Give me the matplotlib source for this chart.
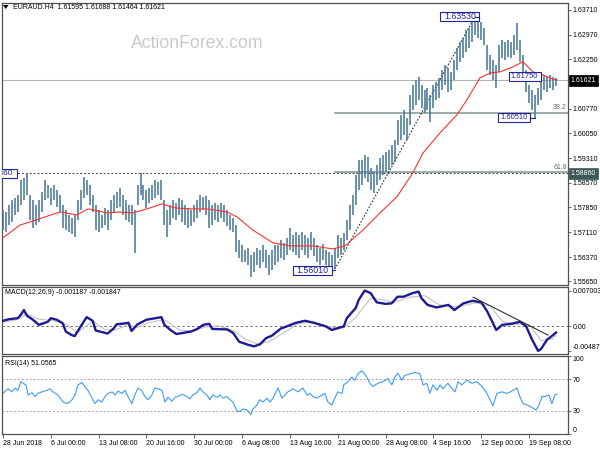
import matplotlib
matplotlib.use('Agg')
import matplotlib.pyplot as plt
from matplotlib.patches import Polygon, Rectangle
import numpy as np

plt.rcParams['font.family'] = ['Liberation Sans', 'DejaVu Sans']

# ---------------- data ----------------
bar_high = [
    1.5777, 1.5771, 1.5792, 1.5807, 1.5813, 1.5822, 1.5866, 1.5872, 1.5887, 1.5822,
    1.5807, 1.5792, 1.5807, 1.5830, 1.5866, 1.5851, 1.5842, 1.5851, 1.5836, 1.5822,
    1.5792, 1.5777, 1.5762, 1.5753, 1.5762, 1.5807, 1.5836, 1.5875, 1.5866, 1.5851,
    1.5822, 1.5792, 1.5777, 1.5762, 1.5783, 1.5777, 1.5807, 1.5822, 1.5830, 1.5842,
    1.5822, 1.5807, 1.5792, 1.5792, 1.5777, 1.5851, 1.5887, 1.5851, 1.5836, 1.5842,
    1.5851, 1.5866, 1.5860, 1.5866, 1.5807, 1.5777, 1.5792, 1.5807, 1.5798, 1.5813,
    1.5807, 1.5792, 1.5783, 1.5777, 1.5792, 1.5807, 1.5822, 1.5816, 1.5819, 1.5807,
    1.5792, 1.5798, 1.5792, 1.5798, 1.5792, 1.5777, 1.5762, 1.5753, 1.5732, 1.5688,
    1.5673, 1.5658, 1.5664, 1.5643, 1.5652, 1.5664, 1.5658, 1.5673, 1.5658, 1.5643,
    1.5658, 1.5673, 1.5673, 1.5688, 1.5679, 1.5694, 1.5723, 1.5703, 1.5711, 1.5703,
    1.5711, 1.5703, 1.5694, 1.5711, 1.5694, 1.5673, 1.5664, 1.5676, 1.5658, 1.5652,
    1.5643, 1.5664, 1.5703, 1.5694, 1.5708, 1.5747, 1.5792, 1.5822, 1.5881, 1.5925,
    1.5925, 1.5940, 1.5934, 1.5902, 1.5890, 1.5911, 1.5931, 1.5940, 1.5949, 1.5955,
    1.5970, 1.5985, 1.6044, 1.6059, 1.6074, 1.6050, 1.6119, 1.6148, 1.6163, 1.6172,
    1.6148, 1.6133, 1.6139, 1.6119, 1.6148, 1.6157, 1.6169, 1.6193, 1.6208, 1.6199,
    1.6187, 1.6222, 1.6258, 1.6276, 1.6288, 1.6312, 1.6318, 1.6335, 1.6353, 1.6341,
    1.6335, 1.6318, 1.6267, 1.6237, 1.6222, 1.6208, 1.6267, 1.6282, 1.6276, 1.6282,
    1.6276, 1.6297, 1.6332, 1.6282, 1.6237, 1.6193, 1.6148, 1.6133, 1.6119, 1.6139,
    1.6169, 1.6178, 1.6175, 1.6178, 1.6172, 1.6169,
]
bar_low = [
    1.5717, 1.5711, 1.5732, 1.5741, 1.5762, 1.5771, 1.5792, 1.5807, 1.5822, 1.5747,
    1.5723, 1.5732, 1.5741, 1.5771, 1.5807, 1.5813, 1.5792, 1.5807, 1.5786, 1.5771,
    1.5723, 1.5717, 1.5711, 1.5705, 1.5697, 1.5747, 1.5777, 1.5813, 1.5822, 1.5792,
    1.5771, 1.5717, 1.5711, 1.5723, 1.5732, 1.5717, 1.5747, 1.5771, 1.5783, 1.5786,
    1.5762, 1.5747, 1.5741, 1.5732, 1.5649, 1.5792, 1.5822, 1.5807, 1.5783, 1.5798,
    1.5807, 1.5813, 1.5822, 1.5807, 1.5732, 1.5697, 1.5732, 1.5753, 1.5747, 1.5762,
    1.5741, 1.5732, 1.5723, 1.5729, 1.5741, 1.5753, 1.5771, 1.5777, 1.5762, 1.5723,
    1.5732, 1.5747, 1.5741, 1.5753, 1.5741, 1.5729, 1.5717, 1.5711, 1.5652, 1.5634,
    1.5622, 1.5622, 1.5613, 1.5578, 1.5593, 1.5613, 1.5605, 1.5622, 1.5605, 1.5584,
    1.5599, 1.5613, 1.5622, 1.5634, 1.5628, 1.5643, 1.5658, 1.5652, 1.5643, 1.5634,
    1.5658, 1.5643, 1.5634, 1.5658, 1.5640, 1.5622, 1.5613, 1.5628, 1.5613, 1.5608,
    1.5602, 1.5601, 1.5634, 1.5643, 1.5658, 1.5688, 1.5717, 1.5762, 1.5792, 1.5836,
    1.5851, 1.5872, 1.5860, 1.5836, 1.5827, 1.5851, 1.5866, 1.5881, 1.5890, 1.5896,
    1.5911, 1.5920, 1.5970, 1.5985, 1.5999, 1.5985, 1.6029, 1.6074, 1.6089, 1.6104,
    1.6080, 1.6065, 1.6074, 1.6038, 1.6080, 1.6104, 1.6110, 1.6133, 1.6148, 1.6127,
    1.6133, 1.6163, 1.6193, 1.6217, 1.6228, 1.6246, 1.6258, 1.6276, 1.6297, 1.6288,
    1.6282, 1.6267, 1.6193, 1.6178, 1.6163, 1.6139, 1.6187, 1.6228, 1.6222, 1.6231,
    1.6228, 1.6237, 1.6252, 1.6217, 1.6163, 1.6127, 1.6095, 1.6074, 1.6051, 1.6089,
    1.6104, 1.6133, 1.6127, 1.6139, 1.6133, 1.6146,
]

ma_idx = [0, 5.7, 10.0, 14.0, 19.1, 24.7, 28.4, 34.8, 39.1, 43.5, 49.2, 53.2, 57.5,
          62.5, 68.2, 74.9, 78.3, 83.6, 90.3, 96.0, 103.7, 110.3, 114.4, 120.4,
          126.1, 131.8, 137.1, 140.5, 146.2, 151.8, 155.2, 159.5, 162.9, 166.2,
          170.6, 173.9, 177.3, 180.6, 182.9, 185.3]
ma_val = [1.5694, 1.5732, 1.5744, 1.5756, 1.5771, 1.5762, 1.5780, 1.5768, 1.5771,
          1.5768, 1.5783, 1.5795, 1.5783, 1.5780, 1.5780, 1.5771, 1.5756, 1.5717,
          1.5679, 1.5670, 1.5670, 1.5661, 1.5670, 1.5717, 1.5768, 1.5816, 1.5887,
          1.5946, 1.6006, 1.6059, 1.6104, 1.6169, 1.6184, 1.6187, 1.6202, 1.6217,
          1.6187, 1.6178, 1.6169, 1.6163]

macd_idx = [0, 2, 5, 6, 7, 8, 10, 12, 15, 16, 18, 20, 21, 23, 24, 26, 28, 30, 31, 33,
            35, 37, 38, 41, 42, 43, 45, 48, 52, 53, 54, 56, 58, 60, 63, 65, 67, 69, 70,
            75, 77, 79, 82, 84, 86, 88, 90, 93, 94, 98, 101, 104, 108, 110, 114, 115,
            118, 119, 121, 123, 125, 128, 130, 132, 134, 137, 139, 140, 142, 145, 149,
            151, 154, 157, 160, 162, 165, 167, 170, 173, 175, 177, 179, 180, 182, 184, 185]
macd_val = [0.0011, 0.0014, 0.0016, 0.0023, 0.0032, 0.0021, 0.0013, 0.0003, 0.0009,
            0.0016, 0.0013, 0.0006, -0.0010, -0.0017, -0.0019, 0.0000, 0.0018, 0.0011,
            -0.0008, -0.0011, -0.0014, -0.0004, 0.0004, 0.0006, 0.0007, -0.0009, 0.0004,
            0.0013, 0.0017, 0.0018, 0.0003, -0.0007, -0.0015, -0.0013, -0.0010, -0.0005,
            0.0003, 0.0005, -0.0005, -0.0006, -0.0013, -0.0030, -0.0036, -0.0039, -0.0035,
            -0.0023, -0.0018, -0.0004, -0.0002, 0.0007, 0.0011, 0.0007, 0.0000, -0.0007,
            0.0000, 0.0016, 0.0036, 0.0052, 0.0070, 0.0065, 0.0047, 0.0044, 0.0045, 0.0058,
            0.0058, 0.0065, 0.0068, 0.0055, 0.0042, 0.0037, 0.0042, 0.0032, 0.0045, 0.0050,
            0.0047, 0.0029, -0.0007, 0.0003, 0.0005, 0.0009, 0.0000, -0.0026, -0.0048,
            -0.0044, -0.0026, -0.0017, -0.0012]

signal_idx = [0, 4, 8, 12, 17, 21, 25, 30, 34, 37, 42, 45, 49, 54, 59, 63, 68, 72, 77,
              81, 85, 89, 94, 99, 104, 110, 114, 118, 123, 127, 131, 136, 141, 146, 152,
              158, 163, 167, 171, 176, 180, 184, 185]
signal_val = [0.0008, 0.0012, 0.0024, 0.0014, 0.0011, 0.0004, -0.0012, 0.0010, -0.0006,
              -0.0008, 0.0003, -0.0002, 0.0008, 0.0013, -0.0007, -0.0009, -0.0001, 0.0001,
              -0.0008, -0.0025, -0.0034, -0.0030, -0.0012, 0.0006, 0.0008, -0.0002, -0.0003,
              0.0018, 0.0055, 0.0052, 0.0047, 0.0057, 0.0060, 0.0042, 0.0038, 0.0046, 0.0040,
              0.0010, 0.0004, 0.0004, -0.0028, -0.0024, -0.0018]

rsi_idx = [0, 0.7, 1.7, 3.0, 4.0, 5.0, 6.0, 6.7, 7.7, 8.4, 9.7, 10.7, 11.7, 13.0, 14.7,
           15.7, 16.7, 18.4, 20.1, 21.4, 22.4, 23.1, 24.1, 25.1, 26.4, 27.4, 28.4, 29.8,
           30.8, 31.8, 33.1, 34.1, 35.1, 36.5, 37.5, 38.5, 39.8, 40.8, 41.8, 43.1, 44.1,
           45.2, 46.5, 47.5, 48.5, 49.8, 50.8, 51.8, 53.2, 54.2, 55.2, 56.5, 57.5, 58.5,
           59.9, 61.5, 62.5, 63.5, 64.9, 65.9, 66.9, 68.2, 69.2, 70.2, 71.6, 72.6, 73.6,
           74.9, 75.9, 76.9, 78.3, 79.3, 80.3, 81.6, 82.9, 83.6, 84.9, 85.9, 87.0, 88.3,
           89.3, 90.3, 92.0, 93.3, 94.3, 95.3, 97.0, 98.7, 100.3, 101.7, 102.7, 103.7,
           105.0, 106.7, 107.7, 108.7, 110.0, 111.0, 112.0, 113.4, 114.0, 115.4, 116.7,
           117.7, 118.7, 120.1, 121.4, 122.7, 123.7, 125.4, 127.1, 128.8, 130.1, 131.1,
           132.1, 133.4, 134.4, 136.1, 137.8, 139.5, 140.5, 141.8, 142.8, 143.8, 145.2,
           146.2, 147.2, 148.8, 150.2, 151.2, 152.2, 153.5, 155.2, 156.9, 158.5, 160.2,
           161.9, 162.9, 163.9, 165.2, 166.9, 168.6, 170.2, 171.9, 172.9, 173.9, 175.6,
           176.9, 178.3, 179.3, 180.3, 181.3, 182.6, 183.6, 184.6, 185.3]
rsi_val = [52, 55, 58, 54, 59, 56, 67, 65, 63, 50, 53, 48, 52, 54, 56, 58, 54, 50, 41, 39,
           41, 44, 50, 63, 66, 61, 56, 46, 39, 44, 41, 48, 52, 54, 50, 55, 52, 56, 48, 39,
           50, 59, 55, 48, 44, 50, 59, 58, 56, 41, 47, 42, 47, 48, 51, 48, 45, 50, 53, 59,
           54, 50, 44, 50, 47, 50, 46, 48, 44, 41, 29, 29, 32, 31, 25, 32, 37, 44, 41, 46,
           41, 46, 59, 46, 50, 54, 58, 54, 59, 50, 52, 48, 46, 50, 52, 41, 37, 46, 54, 52,
           63, 67, 73, 69, 77, 81, 75, 65, 61, 65, 67, 71, 63, 73, 78, 69, 75, 77, 79, 77,
           63, 65, 52, 63, 56, 63, 58, 65, 58, 54, 67, 63, 69, 65, 67, 61, 52, 44, 36, 52,
           54, 52, 55, 59, 48, 39, 37, 34, 31, 37, 48, 48, 50, 39, 50, 51]

date_labels = ["28 Jun 2018", "6 Jul 00:00", "13 Jul 08:00", "20 Jul 16:00",
               "30 Jul 00:00", "6 Aug 08:00", "13 Aug 16:00", "21 Aug 00:00",
               "28 Aug 08:00", "4 Sep 16:00", "12 Sep 00:00", "19 Sep 08:00"]
date_idx = [0, 16, 32, 48, 64, 80, 96, 112, 128, 144, 160, 176]

price_ticks = [1.63710, 1.62970, 1.62250, 1.60770, 1.60050, 1.59310,
               1.58570, 1.57850, 1.57110, 1.56370, 1.55650]

swing_low_idx, swing_low = 111, 1.56010
swing_high_idx, swing_high = 158, 1.63530
level_1588 = 1.58860
level_1605 = 1.60510
level_1617 = 1.61750
last_price = 1.61621
fib_ratios = [0.382, 0.618]
macd_tl_idx = [157.3, 182.3]
macd_tl_val = [0.0057, -0.0017]
rsi_levels = [70, 30]

# ---------------- figure ----------------
W, H = 600, 450
fig = plt.figure(figsize=(6, 4.5), dpi=100)
fig.patch.set_facecolor('white')

def fx(x):
    return x / W

def fy(y):
    return 1 - y / H

def add_axes(x0, y0, x1, y1):
    return fig.add_axes([fx(x0), fy(y1), (x1 - x0) / W, (y1 - y0) / H])

ax = add_axes(2, 3, 568, 285)
axm = add_axes(2, 287, 568, 354)
axr = add_axes(2, 356, 568, 434)

XL = (-0.33, 189.0)
YL = (1.55538, 1.63918)
PX_X = (XL[1] - XL[0]) / 566.0     # index units per pixel
PX_Y = (YL[1] - YL[0]) / 282.0     # price units per pixel
FRAME = '#505050'
TXT = 5.05
BAR_C = '#4a7897'
BOX_C = '#24249a'

for a in (ax, axm, axr):
    a.set_xlim(*XL)
    a.set_facecolor('white')
    for s in a.spines.values():
        s.set_color(FRAME)
        s.set_linewidth(0.9)
    a.yaxis.tick_right()
    a.tick_params(axis='y', direction='out', length=2.5, width=0.6, color=FRAME,
                  labelsize=TXT, pad=1.0, labelcolor='black')
    a.tick_params(axis='x', bottom=False, labelbottom=False)

# ---- main price panel ----
ax.set_ylim(*YL)
idx = np.arange(len(bar_high))
ax.vlines(idx, bar_low, bar_high, color=BAR_C, lw=1.15, zorder=3)
ax.plot(ma_idx, ma_val, color='#ff3030', lw=0.8, zorder=4)

ax.axhline(last_price, color='#b4b4b4', lw=0.8, zorder=1)
ax.axhline(level_1588, color='#404040', lw=0.7, ls=(0, (2, 2)), zorder=2)
rng = swing_high - swing_low
for r in fib_ratios:
    lvl = swing_high - r * rng
    ax.plot([swing_low_idx, XL[1]], [lvl, lvl], color='#8c9c9c', lw=1.2, zorder=2)
    ax.text(188.6, lvl + 0.0004, f"{r*100:.1f}", fontsize=TXT, color='#607070',
            ha='right', va='bottom', zorder=5)
ax.plot([swing_low_idx, swing_high_idx], [swing_low, swing_high], color='#303030',
        lw=0.8, ls=(0, (1.5, 1.5)), zorder=2)


def box_label(cx_px, cy_px, w_px, h_px, s, fs):
    """Boxed price label; centre and size given in pixels of the figure."""
    cx = XL[0] + (cx_px - 2) * PX_X
    cy = YL[1] - (cy_px - 3) * PX_Y
    w = w_px * PX_X
    h = h_px * PX_Y
    ax.add_patch(Rectangle((cx - w / 2, cy - h / 2), w, h, fc='white', ec=BOX_C,
                           lw=0.8, zorder=6, clip_on=True))
    ax.text(cx, cy - 0.2 * PX_Y, s, fontsize=fs, color=BOX_C, ha='center',
            va='center', zorder=7, clip_on=True)
    return cx + w / 2, cy


rx, ry = box_label(460, 16.5, 39, 9.5, f"{swing_high:.5f}", 6.3)
ax.plot([rx, swing_high_idx], [ry, ry], color=BOX_C, lw=0.8, zorder=6)
box_label(524.5, 76.5, 32, 9, f"{level_1617:.5f}", 5.4)
rx, ry = box_label(514, 117.5, 32, 9, f"{level_1605:.5f}", 5.4)
ax.plot([rx, 178], [ry, ry], color=BOX_C, lw=0.8, zorder=6)
rx, ry = box_label(312.5, 270, 39, 9, f"{swing_low:.5f}", 6.3)
ax.plot([rx, swing_low_idx], [ry, ry], color=BOX_C, lw=0.8, zorder=6)
box_label(-2.5, 173, 39, 9, f"{level_1588:.5f}", 6.0)

ax.set_yticks(price_ticks)
ax.set_yticklabels([f"{v:.5f}" for v in price_ticks])

ax.text(1.005, last_price, f"{last_price:.5f}", transform=ax.get_yaxis_transform(),
        fontsize=TXT, color='white', ha='left', va='center', zorder=10,
        bbox=dict(boxstyle='square,pad=0.3', fc='black', ec='black', lw=0.5))
ax.text(1.005, level_1588, f"{level_1588:.5f}", transform=ax.get_yaxis_transform(),
        fontsize=TXT, color='white', ha='left', va='center', zorder=10,
        bbox=dict(boxstyle='square,pad=0.3', fc='#3d5858', ec='#3d5858', lw=0.5))

# ---- MACD panel ----
axm.set_ylim(-0.0054, 0.0077)
axm.axhline(0, color='#707070', lw=0.7, ls=(0, (2.5, 2.5)))
axm.plot(signal_idx, signal_val, color='#c3c3c3', lw=0.8, zorder=2)
axm.plot(macd_idx, macd_val, color='#1c1c8e', lw=1.7, zorder=3)
axm.plot(macd_tl_idx, macd_tl_val, color='#303030', lw=0.8, zorder=4)
axm.set_yticks([0.007003, 0.0, -0.004873])
axm.set_yticklabels(['0.007003', '0.00', '-0.004873'])
axm.get_yticklabels()[2].set_va('bottom')

# ---- RSI panel ----
axr.set_ylim(0, 100)
for lv in rsi_levels:
    axr.axhline(lv, color='#a8a8a8', lw=0.7, ls=(0, (2, 2)))
axr.plot(rsi_idx, rsi_val, color='#3d9bff', lw=0.8)
axr.set_yticks([100, 70, 30, 0])
axr.set_yticklabels(['100', '70', '30', '0'])
labs = axr.get_yticklabels()
labs[0].set_va('top')
labs[3].set_va('bottom')

axr.tick_params(axis='x', bottom=True, labelbottom=True, direction='out', length=3,
                width=0.6, color=FRAME, labelsize=TXT, pad=1)
axr.set_xticks(date_idx)
axr.set_xticklabels(date_labels)
for lb in axr.get_xticklabels():
    lb.set_ha('left')

# ---- texts ----
fig.patches.append(Polygon([[fx(3), fy(5)], [fx(8.5), fy(5)], [fx(5.75), fy(9)]],
                           closed=True, transform=fig.transFigure, fc='black',
                           ec='none'))
fig.text(fx(13), fy(7.5), "EURAUD.H4  1.61595 1.61688 1.61464 1.61621",
         fontsize=TXT, color='black', ha='left', va='center')
fig.text(fx(197), fy(44), "ActionForex.com", fontsize=12.7, color='#c9c9c9',
         ha='center', va='center')
fig.text(fx(5), fy(292.5), "MACD(12,26,9) -0.001187 -0.001847", fontsize=TXT,
         color='black', ha='left', va='center')
fig.text(fx(5), fy(363.5), "RSI(14) 51.0565", fontsize=TXT, color='black',
         ha='left', va='center')

fig.savefig('out.png', dpi=100, facecolor='white')
